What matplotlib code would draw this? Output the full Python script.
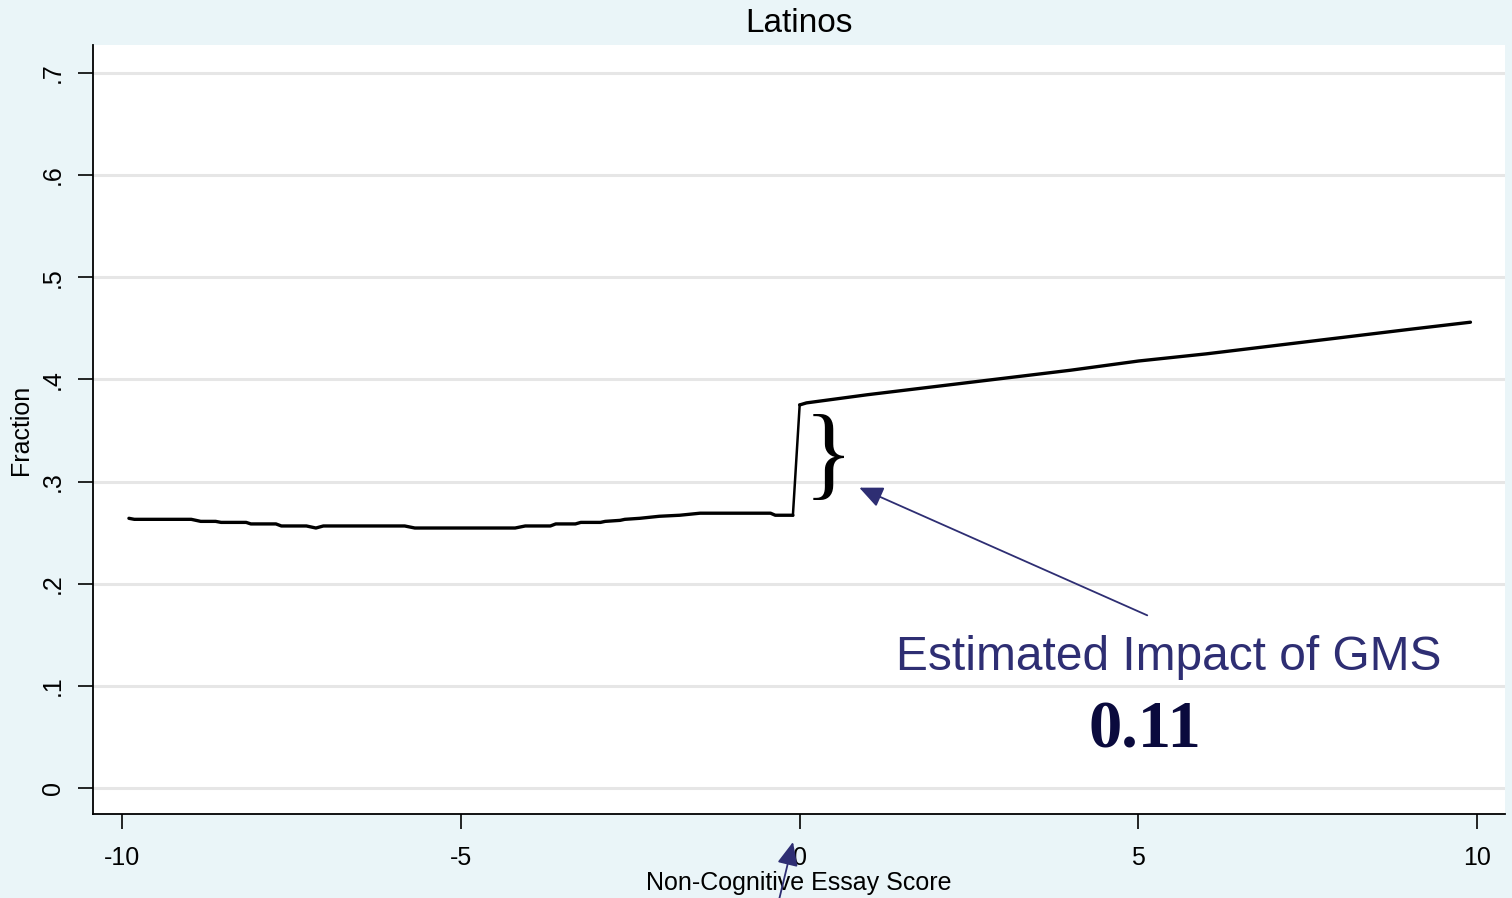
import matplotlib
matplotlib.use("Agg")
import matplotlib.pyplot as plt
import numpy as np

# Data
left_x = [-9.90, -9.82, -8.98, -8.84, -8.62, -8.54, -8.17, -8.10, -7.73, -7.65,
          -7.28, -7.14, -7.03, -5.83, -5.68, -4.20, -4.05, -3.68, -3.60, -3.31,
          -3.23, -2.94, -2.87, -2.65, -2.58, -2.36, -2.07, -1.77, -1.47, -0.43,
          -0.36, -0.10]
left_y = [0.264, 0.263, 0.263, 0.261, 0.261, 0.260, 0.260, 0.2585, 0.2585, 0.2565,
          0.2565, 0.2545, 0.2565, 0.2565, 0.2545, 0.2545, 0.2565, 0.2565, 0.2585, 0.2585,
          0.260, 0.260, 0.261, 0.262, 0.263, 0.264, 0.266, 0.267, 0.269, 0.269,
          0.267, 0.267]
right_x = [0.0, 0.1, 1, 2, 3, 4, 5, 6, 7, 8, 9, 9.9]
right_y = [0.375, 0.377, 0.385, 0.393, 0.401, 0.409, 0.418, 0.425, 0.433, 0.441, 0.449, 0.456]

x_ticks = [-10, -5, 0, 5, 10]
x_ticklabels = ["-10", "-5", "0", "5", "10"]
y_ticks = [0, 0.1, 0.2, 0.3, 0.4, 0.5, 0.6, 0.7]
y_ticklabels = ["0", ".1", ".2", ".3", ".4", ".5", ".6", ".7"]

title = "Latinos"
xlabel = "Non-Cognitive Essay Score"
ylabel = "Fraction"
note = "Estimated Impact of GMS"
estimate = "0.11"

plt.rcParams['font.family'] = ['Liberation Sans', 'DejaVu Sans']
bg = "#EAF5F8"
navy = "#2E2E73"

fig = plt.figure(figsize=(15.12, 8.98), dpi=100, facecolor=bg)
W, H = 1512, 898
ax = fig.add_axes([93 / W, 1 - 814 / H, (1505 - 93) / W, (814 - 45) / H])
ax.set_facecolor("white")

ax.plot(left_x, left_y, color="black", lw=2.4, solid_capstyle="round", zorder=3)
ax.plot([left_x[-1], right_x[0]], [left_y[-1], right_y[0]], color="black", lw=1.8, zorder=3)
ax.plot(right_x, right_y, color="black", lw=2.4, solid_capstyle="round", zorder=3)

ax.set_xlim(-10.43, 10.41)
ax.set_ylim(-0.0255, 0.7274)
ax.set_xticks(x_ticks)
ax.set_xticklabels(x_ticklabels, fontsize=18)
ax.set_yticks(y_ticks)
ax.set_yticklabels(y_ticklabels, fontsize=18, rotation=90, va="center")
ax.tick_params(axis="x", direction="out", length=11, width=1.2, color="black", pad=12)
ax.tick_params(axis="y", direction="out", length=11, width=1.2, color="black", pad=9)
ax.grid(axis="y", color="#E6E6E6", lw=2.2)
ax.set_axisbelow(True)
for s in ["top", "right"]:
    ax.spines[s].set_visible(False)
for s in ["left", "bottom"]:
    ax.spines[s].set_linewidth(1.3)

ax.set_title(title, fontsize=24, pad=9)
ax.set_xlabel(xlabel, fontsize=18, labelpad=1)
ax.set_ylabel(ylabel, fontsize=18, labelpad=6)

# brace
ax.text(0.43, 0.320, "}", family=["Liberation Serif"], fontsize=74, va="center", ha="center",
        transform=ax.transData)

# annotation
ax.annotate("", xy=(0.88, 0.294), xytext=(5.13, 0.169),
            arrowprops=dict(arrowstyle="-|>,head_length=0.9,head_width=0.4", color=navy, lw=1.3,
                            mutation_scale=16, shrinkA=0, shrinkB=0))
ax.text(5.45, 0.128, note, color=navy, fontsize=34.5, ha="center", va="center")
ax.text(5.1, 0.056, estimate, color="#0A0A3D", fontsize=48, ha="center", va="center",
        family=["Liberation Serif"], fontweight="bold")

# lower arrow pointing to 0 tick
fig.add_artist(matplotlib.patches.FancyArrowPatch(
    posA=(779 / W, 1 - 900 / H), posB=(793 / W, 1 - 842 / H), transform=fig.transFigure,
    arrowstyle="-|>,head_length=0.9,head_width=0.4", color=navy, lw=1.3, mutation_scale=16,
    shrinkA=0, shrinkB=0))

fig.savefig("out.png", dpi=100, facecolor=bg)
